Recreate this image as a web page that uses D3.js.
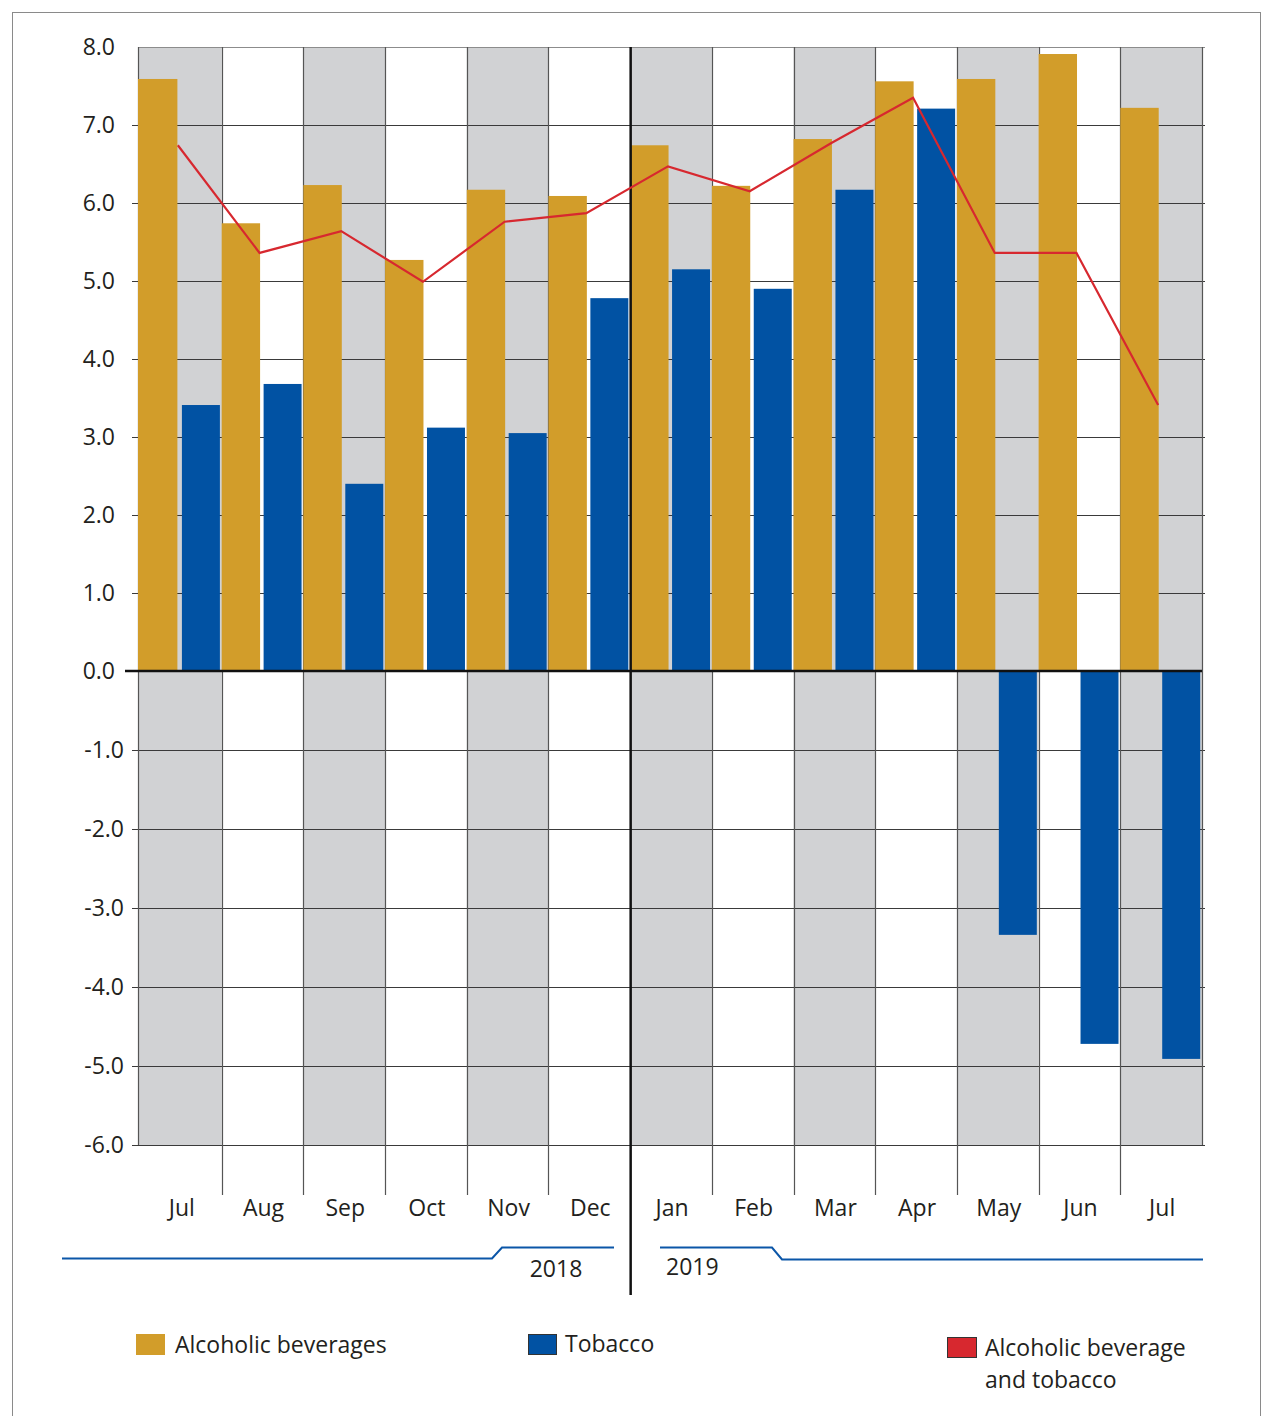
<!DOCTYPE html>
<html>
<head>
<meta charset="utf-8">
<script src="https://cdn.jsdelivr.net/npm/d3@7"></script>
<style>
  body { margin: 0; background: #fff; }
  svg text { font-family: "Open Sans", "Noto Sans", sans-serif; fill: #231f20; }
</style>
</head>
<body>
<div id="chart"></div>
<script>
// Data
var months = ["Jul", "Aug", "Sep", "Oct", "Nov", "Dec", "Jan", "Feb", "Mar", "Apr", "May", "Jun", "Jul "];
var alcohol = [7.59, 5.74, 6.23, 5.27, 6.17, 6.09, 6.74, 6.22, 6.82, 7.56, 7.59, 7.91, 7.22];
var tobacco = [3.41, 3.68, 2.40, 3.12, 3.05, 4.78, 5.15, 4.90, 6.17, 7.21, -3.34, -4.72, -4.91];
var combined = [6.74, 5.36, 5.64, 4.99, 5.76, 5.87, 6.47, 6.15, 6.77, 7.35, 5.36, 5.36, 3.41];
var yTicks = [-6, -5, -4, -3, -2, -1, 0, 1, 2, 3, 4, 5, 6, 7, 8];
var years = ["2018", "2019"];
var legendNames = ["Alcoholic beverages", "Tobacco", "Alcoholic beverage", "and tobacco"];

var colAlc = "#d29d2a";
var colTob = "#0152a3";
var colLine = "#d7282f";
var colBand = "#d1d2d4";

var width = 1264, height = 1416;
var fs = 23;

var svg = d3.select("#chart")
    .append("svg")
    .attr("width", width)
    .attr("height", height);

// outer frame
svg.append("rect")
    .attr("x", 12.5).attr("y", 12.5)
    .attr("width", 1248).attr("height", 1410)
    .attr("fill", "none")
    .attr("stroke", "#8a8a8a")
    .attr("stroke-width", 1);

// scales
var x = d3.scaleBand()
    .domain(d3.range(months.length))
    .range([140, 1202])
    .padding(0);

var y = d3.scaleLinear()
    .domain([-6, 0, 8])
    .range([1145, 671, 47]);

var bw = x.bandwidth();

// alternating bands
svg.append("g").selectAll("rect")
    .data(months)
    .enter()
    .append("rect")
    .filter(function(d, i) { return i % 2 === 0; })
    .attr("x", function(d, i) { return i === 0 ? 138 : x(i * 2); })
    .attr("y", y(8))
    .attr("width", function(d, i) { return i === 0 ? bw + 2 : bw; })
    .attr("height", y(-6) - y(8))
    .attr("fill", colBand);

// horizontal grid lines
svg.append("g").selectAll("line")
    .data(yTicks.filter(function(d) { return d !== 0; }))
    .enter()
    .append("line")
    .attr("x1", function(d) { return d === 8 ? 138 : 132; })
    .attr("x2", 1205)
    .attr("y1", function(d) { return Math.round(y(d)) + 0.5; })
    .attr("y2", function(d) { return Math.round(y(d)) + 0.5; })
    .attr("stroke", function(d) { return d === 8 ? "#8c8c8c" : "#3a3a3a"; })
    .attr("stroke-width", 1.2);

// vertical band separators
svg.append("g").selectAll("line")
    .data(d3.range(months.length + 1))
    .enter()
    .append("line")
    .filter(function(d) { return d !== 6; })
    .attr("x1", function(d) { return d === 0 ? 138.5 : Math.round(x(d) || 1202) + 0.5; })
    .attr("x2", function(d) { return d === 0 ? 138.5 : Math.round(x(d) || 1202) + 0.5; })
    .attr("y1", y(8))
    .attr("y2", function(d) { return (d === 0 || d === 13) ? y(-6) : 1195; })
    .attr("stroke", "#555")
    .attr("stroke-width", 1.2);

// y tick labels
svg.append("g").selectAll("text")
    .data(yTicks)
    .enter()
    .append("text")
    .attr("x", function(d) { return d < 0 ? 124 : 115; })
    .attr("y", function(d) { return y(d) + 8; })
    .attr("text-anchor", "end")
    .attr("font-size", fs)
    .text(function(d) { return d.toFixed(1); });

// bars
svg.append("g").selectAll("rect")
    .data(alcohol)
    .enter()
    .append("rect")
    .attr("x", function(d, i) { return i === 0 ? 138 : x(i); })
    .attr("y", function(d) { return y(Math.max(0, d)); })
    .attr("width", function(d, i) { return i === 0 ? bw * 0.47 + 1 : bw * 0.47; })
    .attr("height", function(d) { return Math.abs(y(d) - y(0)); })
    .attr("fill", colAlc);

svg.append("g").selectAll("rect")
    .data(tobacco)
    .enter()
    .append("rect")
    .attr("x", function(d, i) { return x(i) + bw * 0.513; })
    .attr("y", function(d) { return y(Math.max(0, d)); })
    .attr("width", bw * 0.465)
    .attr("height", function(d) { return Math.abs(y(d) - y(0)); })
    .attr("fill", colTob);

// zero axis
svg.append("line")
    .attr("x1", 125).attr("x2", 1202)
    .attr("y1", y(0)).attr("y2", y(0))
    .attr("stroke", "#111")
    .attr("stroke-width", 2.5);

// year divider
svg.append("line")
    .attr("x1", x(6) + 0.5).attr("x2", x(6) + 0.5)
    .attr("y1", y(8)).attr("y2", 1295)
    .attr("stroke", "#111")
    .attr("stroke-width", 2.5);

// combined line
var line = d3.line()
    .x(function(d, i) { return x(i) + bw / 2 - 3; })
    .y(function(d) { return y(d); });

svg.append("path")
    .datum(combined)
    .attr("d", line)
    .attr("fill", "none")
    .attr("stroke", colLine)
    .attr("stroke-width", 2.2);

// month labels
svg.append("g").selectAll("text")
    .data(months)
    .enter()
    .append("text")
    .attr("x", function(d, i) { return x(i) + bw / 2 + 1; })
    .attr("y", 1216)
    .attr("text-anchor", "middle")
    .attr("font-size", fs)
    .text(function(d) { return d.trim(); });

// year brackets
svg.append("path")
    .attr("d", "M62,1258.5H492L502,1247.5H614")
    .attr("fill", "none")
    .attr("stroke", "#0b56a8")
    .attr("stroke-width", 2);

svg.append("path")
    .attr("d", "M660,1247.5H772L782,1259.5H1203")
    .attr("fill", "none")
    .attr("stroke", "#0b56a8")
    .attr("stroke-width", 2);

svg.append("text")
    .attr("x", 556).attr("y", 1277)
    .attr("text-anchor", "middle")
    .attr("font-size", fs)
    .text(years[0]);

svg.append("text")
    .attr("x", 666).attr("y", 1275)
    .attr("font-size", fs)
    .text(years[1]);

// legend
var legend = svg.append("g");

legend.append("rect")
    .attr("x", 136).attr("y", 1334).attr("width", 29).attr("height", 21)
    .attr("fill", colAlc);
legend.append("text")
    .attr("x", 175).attr("y", 1353)
    .attr("font-size", fs)
    .text(legendNames[0]);

legend.append("rect")
    .attr("x", 528.5).attr("y", 1334.5).attr("width", 28).attr("height", 20)
    .attr("fill", colTob)
    .attr("stroke", "#333")
    .attr("stroke-width", 1);
legend.append("text")
    .attr("x", 565).attr("y", 1352)
    .attr("font-size", fs)
    .text(legendNames[1]);

legend.append("rect")
    .attr("x", 947.5).attr("y", 1337.5).attr("width", 29).attr("height", 20)
    .attr("fill", colLine)
    .attr("stroke", "#333")
    .attr("stroke-width", 1);
legend.append("text")
    .attr("x", 985).attr("y", 1356)
    .attr("font-size", fs)
    .text(legendNames[2]);
legend.append("text")
    .attr("x", 985).attr("y", 1388)
    .attr("font-size", fs)
    .text(legendNames[3]);
</script>
</body>
</html>
